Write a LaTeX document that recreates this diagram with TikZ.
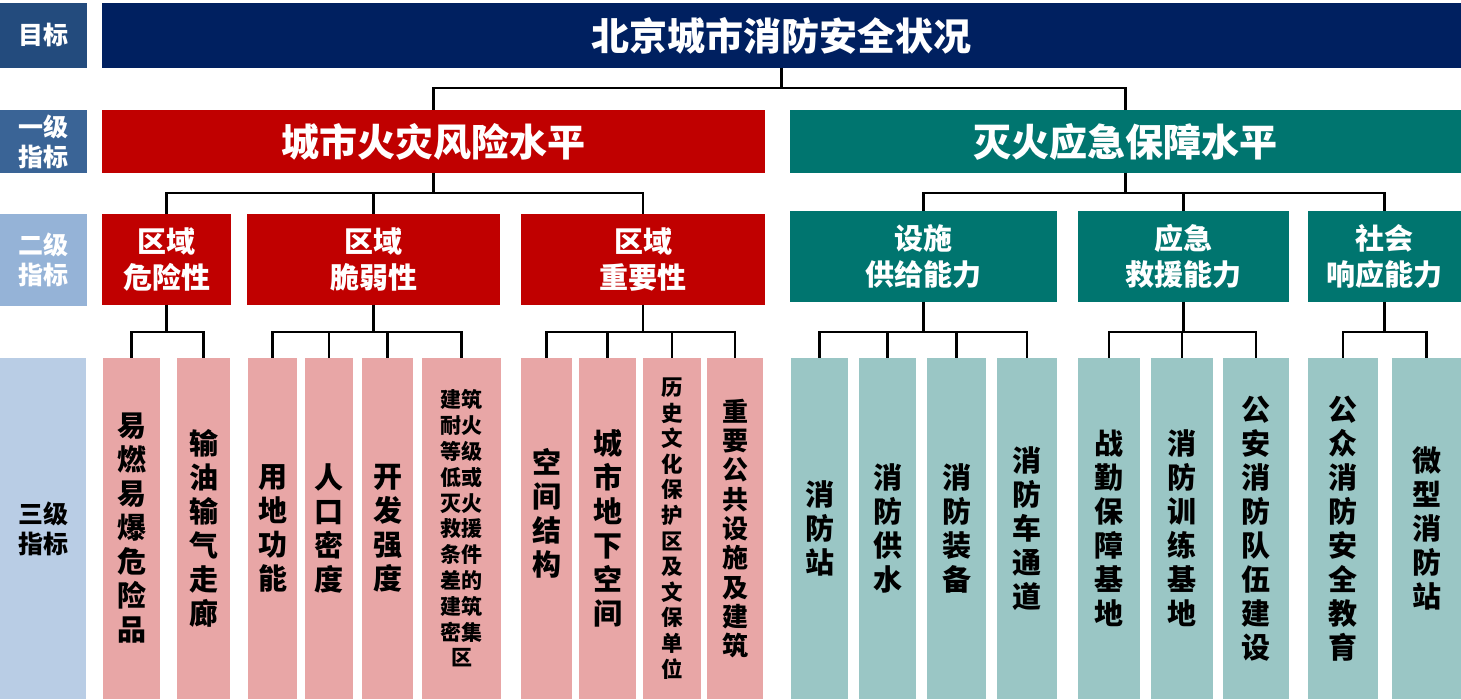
\documentclass[tikz,border=0pt]{standalone}
\usepackage{fontspec}
\setmainfont{Noto Sans CJK SC}
\definecolor{labA}{HTML}{234B7D}
\definecolor{labB}{HTML}{3A6496}
\definecolor{labC}{HTML}{95B3D7}
\definecolor{labD}{HTML}{B9CDE5}
\definecolor{navy}{HTML}{002060}
\definecolor{redD}{HTML}{C00000}
\definecolor{tealD}{HTML}{00756F}
\definecolor{redL}{HTML}{E8A6A6}
\definecolor{tealL}{HTML}{9AC6C5}
\tikzset{
  bx/.style={inner sep=0pt, outer sep=0pt, anchor=north west, align=center},
  lab/.style={bx, text=white, font=\fontsize{25}{30}\selectfont\bfseries},
  top/.style={bx, fill=navy, text=white, font=\fontsize{38}{44}\selectfont\bfseries},
  lvA/.style={bx, text=white, font=\fontsize{38}{44}\selectfont\bfseries},
  lvB/.style={bx, text=white, font=\fontsize{29}{36}\selectfont\bfseries},
  lvC/.style={bx, text=black, font=\fontsize{29}{34}\selectfont\bfseries},
  conn/.style={draw=black, line width=2.8pt}
}
\begin{document}
\begin{tikzpicture}[x=1pt,y=-1pt]
\fill[white] (0,0) rectangle (1461,700);
\useasboundingbox (0,0) rectangle (1461,700);
% left labels
\node[lab, fill=labA, minimum width=87, minimum height=65] (g0) at (0,3) {目标};
\node[lab, fill=labB, minimum width=87, minimum height=63] (g1) at (0,110) {一级\\指标};
\node[lab, fill=labC, minimum width=87, minimum height=92] (g2) at (0,214) {二级\\指标};
\node[lab, fill=labD, text=black, minimum width=86, minimum height=341] (g3) at (0,358) {三级\\指标};
% title
\node[top, minimum width=1359, minimum height=65] (t) at (102,3) {北京城市消防安全状况};
% level 1
\node[lvA, fill=redD, minimum width=663, minimum height=63] (r) at (102,110) {城市火灾风险水平};
\node[lvA, fill=tealD, minimum width=671, minimum height=63] (s) at (790,110) {灭火应急保障水平};
% level 2
\node[lvB, fill=redD, minimum width=129, minimum height=91] (ra) at (102,214) {区域\\危险性};
\node[lvB, fill=redD, minimum width=253, minimum height=91] (rb) at (247,214) {区域\\脆弱性};
\node[lvB, fill=redD, minimum width=244, minimum height=91] (rc) at (521,214) {区域\\重要性};
\node[lvB, fill=tealD, minimum width=267, minimum height=91] (sa) at (790,211) {设施\\供给能力};
\node[lvB, fill=tealD, minimum width=211, minimum height=91] (sb) at (1078,211) {应急\\救援能力};
\node[lvB, fill=tealD, minimum width=153, minimum height=91] (sc) at (1308,211) {社会\\响应能力};
% level 3
\node[lvC, fill=redL, minimum width=57, minimum height=341] (a1) at (103,358) {易\\燃\\易\\爆\\危\\险\\品};
\node[lvC, fill=redL, minimum width=53, minimum height=341] (a2) at (177,358) {输\\油\\输\\气\\走\\廊};
\node[lvC, fill=redL, minimum width=49, minimum height=341] (b1) at (248,358) {用\\地\\功\\能};
\node[lvC, fill=redL, minimum width=48, minimum height=341] (b2) at (305,358) {人\\口\\密\\度};
\node[lvC, fill=redL, minimum width=51, minimum height=341] (b3) at (362,358) {开\\发\\强\\度};
\node[lvC, fill=redL, minimum width=79, minimum height=341, font=\fontsize{21}{25.8}\selectfont\bfseries] (b4) at (422,358) {建筑\\耐火\\等级\\低或\\灭火\\救援\\条件\\差的\\建筑\\密集\\区};
\node[lvC, fill=redL, minimum width=51, minimum height=341] (c1) at (521,358) {空\\间\\结\\构\\\mbox{}};
\node[lvC, fill=redL, minimum width=57, minimum height=341] (c2) at (579,358) {城\\市\\地\\下\\空\\间};
\node[lvC, fill=redL, minimum width=58, minimum height=341, font=\fontsize{21.5}{25.6}\selectfont\bfseries] (c3) at (643,358) {历\\史\\文\\化\\保\\护\\区\\及\\文\\保\\单\\位};
\node[lvC, fill=redL, minimum width=56, minimum height=341, font=\fontsize{26}{29.3}\selectfont\bfseries] (c4) at (707,358) {重\\要\\公\\共\\设\\施\\及\\建\\筑};
\node[lvC, fill=tealL, minimum width=57, minimum height=341] (d1) at (791,358) {消\\防\\站};
\node[lvC, fill=tealL, minimum width=57, minimum height=341] (d2) at (859,358) {消\\防\\供\\水};
\node[lvC, fill=tealL, minimum width=59, minimum height=341] (d3) at (927,358) {消\\防\\装\\备};
\node[lvC, fill=tealL, minimum width=60, minimum height=341] (d4) at (997,358) {消\\防\\车\\通\\道};
\node[lvC, fill=tealL, minimum width=62, minimum height=341] (e1) at (1078,358) {战\\勤\\保\\障\\基\\地};
\node[lvC, fill=tealL, minimum width=62, minimum height=341] (e2) at (1151,358) {消\\防\\训\\练\\基\\地};
\node[lvC, fill=tealL, minimum width=66, minimum height=341] (e3) at (1223,358) {公\\安\\消\\防\\队\\伍\\建\\设};
\node[lvC, fill=tealL, minimum width=70, minimum height=341] (f1) at (1308,358) {公\\众\\消\\防\\安\\全\\教\\育};
\node[lvC, fill=tealL, minimum width=69, minimum height=341] (f2) at (1392,358) {微\\型\\消\\防\\站};
% connectors
\foreach \c in {r,s} \draw[conn] (t.south) -- ++(0,20) -| (\c.north);
\foreach \c in {ra,rb,rc} \draw[conn] (r.south) -- ++(0,20) -| (\c.north);
\foreach \c in {sa,sb,sc} \draw[conn] (s.south) -- ++(0,20) -| (\c.north);
\foreach \c in {a1,a2} \draw[conn] (ra.south) -- ++(0,27) -| (\c.north);
\foreach \c in {b1,b2,b3,b4} \draw[conn] (rb.south) -- ++(0,27) -| (\c.north);
\foreach \c in {c1,c2,c3,c4} \draw[conn] (rc.south) -- ++(0,27) -| (\c.north);
\foreach \c in {d1,d2,d3,d4} \draw[conn] (sa.south) -- ++(0,30) -| (\c.north);
\foreach \c in {e1,e2,e3} \draw[conn] (sb.south) -- ++(0,30) -| (\c.north);
\foreach \c in {f1,f2} \draw[conn] (sc.south) -- ++(0,30) -| (\c.north);
\end{tikzpicture}
\end{document}
